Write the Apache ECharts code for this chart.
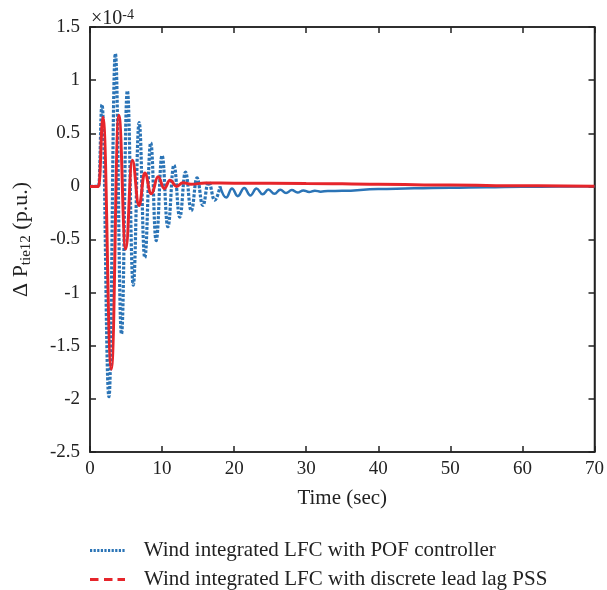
<!DOCTYPE html>
<html>
<head>
<meta charset="utf-8">
<script src="https://cdn.jsdelivr.net/npm/echarts@6/dist/echarts.min.js"></script>
<style>
  html, body { margin:0; padding:0; background:#fff; }
  #main { width:607px; height:590px; }
</style>
</head>
<body>
<div id="main"></div>
<script>
// values are in units of 1e-4 p.u. (peaks, troughs, tail)
let blueTime = [0, 1.2, 1.66, 2.63, 3.52, 4.37, 5.18, 6.0, 6.82, 7.6, 8.43, 9.18, 10.0, 10.8, 11.65, 12.45, 13.25, 14.05, 14.85, 15.65, 16.45, 17.3, 18.05,
  18.9, 19.7, 20.5, 21.4, 22.25, 23.1, 23.95, 24.75, 25.6, 26.4, 27.2, 28.0, 28.8, 29.6, 30.4, 31.2, 32, 33, 35, 40, 45, 50, 55, 60, 65, 70];
let blueVal = [0, 0, 0.77, -1.98, 1.25, -1.39, 0.9, -0.93, 0.6, -0.67, 0.41, -0.51, 0.29, -0.38, 0.2, -0.29, 0.135, -0.23, 0.08, -0.18, 0.04, -0.13, 0.0,
  -0.105, -0.02, -0.092, -0.015, -0.085, -0.02, -0.075, -0.03, -0.07, -0.032, -0.063, -0.035, -0.058, -0.038, -0.053, -0.04, -0.05, -0.043, -0.042, -0.025, -0.018, -0.012, -0.008, -0.004, -0.002, 0];
let blueSplit = 22; // dotted before t=18, solid after

let redTime = [0, 1.2, 1.8, 2.96, 4.0, 4.95, 5.87, 6.8, 7.6, 8.5, 9.45, 10.3, 11.1, 12.0, 12.9, 14, 16, 20, 30, 40, 50, 60, 70];
let redVal = [0, 0, 0.65, -1.72, 0.67, -0.59, 0.245, -0.18, 0.125, -0.07, 0.09, -0.02, 0.057, 0.0, 0.035, 0.02, 0.032, 0.03, 0.028, 0.02, 0.012, 0.005, 0.002];

let xTicks = [0, 10, 20, 30, 40, 50, 60, 70];
let yTicks = [-2.5, -2, -1.5, -1, -0.5, 0, 0.5, 1, 1.5];

let nameBlue = 'Wind integrated LFC with POF controller';
let nameRed = 'Wind integrated LFC with discrete lead lag PSS';

function pairs(t, v, a, b){
  let out = [];
  for(let i=a;i<b;i++) out.push([t[i], v[i]]);
  return out;
}

let blueColor = '#2b74b6';
let redColor = '#e6252b';
let ink = '#222';
let font = '"Liberation Serif", "DejaVu Serif", serif';

// legend icons: dotted and dashed strokes
let dotIcon = 'path://M0,0h2.2v3h-2.2z M3.6,0h2.2v3h-2.2z M7.2,0h2.2v3h-2.2z M10.8,0h2.2v3h-2.2z M14.4,0h2.2v3h-2.2z M18,0h2.2v3h-2.2z M21.6,0h2.2v3h-2.2z M25.2,0h2.2v3h-2.2z M28.8,0h2.2v3h-2.2z M32.4,0h2.2v3h-2.2z';
let dashIcon = 'path://M0,0h8.5v3h-8.5z M14,0h8.5v3h-8.5z M27.5,0h7.5v3h-7.5z';

function sideAxis(extra){
  let a = {
    type:'value',
    axisLine:{onZero:false, lineStyle:{color:ink, width:1.5}},
    axisTick:{inside:true, length:6, lineStyle:{color:ink, width:1.5}},
    axisLabel:{show:false}, splitLine:{show:false}
  };
  return Object.assign(a, extra);
}

function legendRow(name, icon, color, top){
  return {
    orient:'horizontal', left:85, top:top, itemWidth:35, itemHeight:3,
    textStyle:{fontFamily:font, fontSize:21, color:ink, padding:[0,0,0,14]},
    data:[{name:name, icon:icon, itemStyle:{color:color}}]
  };
}

let TChart = echarts.init(document.getElementById('main'));
let option = {
  backgroundColor:'#fff',
  animation:false,
  textStyle:{fontFamily:font},
  title:{
    text:'×10{sup|-4}',
    left:86, top:3,
    textStyle:{
      fontFamily:font, fontSize:20, fontWeight:'normal', color:ink,
      rich:{ sup:{fontFamily:font, fontSize:14, color:ink, verticalAlign:'top', padding:[0,0,8,0]} }
    }
  },
  grid:{ left:90, right:11, top:27, bottom:138, show:true, borderColor:ink, borderWidth:1.5 },
  legend:[
    legendRow(nameBlue, dotIcon, blueColor, 535),
    legendRow(nameRed, dashIcon, redColor, 564)
  ],
  xAxis:[
    sideAxis({
      min:0, max:70, interval:10, position:'bottom',
      name:'Time (sec)', nameLocation:'middle', nameGap:36,
      nameTextStyle:{fontFamily:font, fontSize:21, color:ink},
      axisLabel:{fontFamily:font, fontSize:19, color:ink, margin:8,
        formatter:function(v){ return xTicks.indexOf(v) >= 0 ? String(v) : ''; }}
    }),
    sideAxis({min:0, max:70, interval:10, position:'top'})
  ],
  yAxis:[
    sideAxis({
      min:-2.5, max:1.5, interval:0.5, position:'left',
      name:'Δ P{sub|tie12} (p.u.)', nameLocation:'middle', nameGap:56, nameRotate:90,
      nameTextStyle:{fontFamily:font, fontSize:22, color:ink,
        rich:{ sub:{fontFamily:font, fontSize:15, color:ink, verticalAlign:'bottom', padding:[10,0,0,0]} }},
      axisLabel:{fontFamily:font, fontSize:19, color:ink, margin:10,
        formatter:function(v){ return yTicks.indexOf(v) >= 0 ? String(v) : ''; }}
    }),
    sideAxis({min:-2.5, max:1.5, interval:0.5, position:'right'})
  ],
  series:[
    {
      name:nameBlue, type:'line', symbol:'none', smooth:0.45, smoothMonotone:'x',
      lineStyle:{color:blueColor, width:3.2, type:[3,1.6]}, itemStyle:{color:blueColor},
      data:pairs(blueTime, blueVal, 0, blueSplit+1)
    },
    {
      name:nameBlue, type:'line', symbol:'none', smooth:0.45, smoothMonotone:'x',
      lineStyle:{color:blueColor, width:2.5}, itemStyle:{color:blueColor},
      data:pairs(blueTime, blueVal, blueSplit, blueTime.length)
    },
    {
      name:nameRed, type:'line', symbol:'none', smooth:0.45, smoothMonotone:'x',
      lineStyle:{color:redColor, width:3}, itemStyle:{color:redColor},
      data:pairs(redTime, redVal, 0, redTime.length)
    }
  ]
};
TChart.setOption(option);
</script>
</body>
</html>
